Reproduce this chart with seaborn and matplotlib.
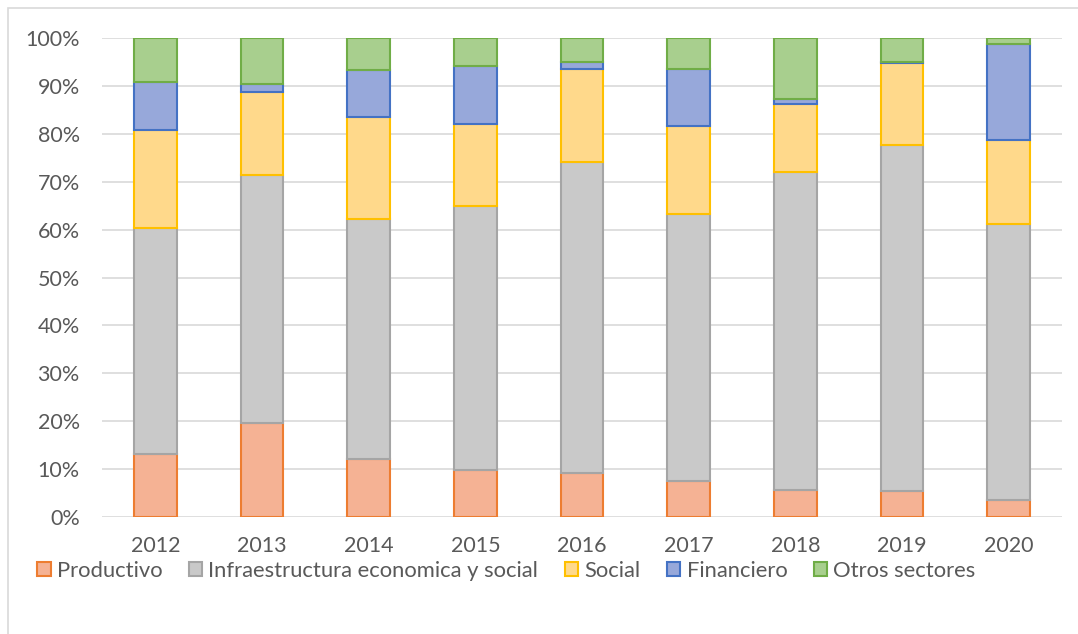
import matplotlib
matplotlib.use("Agg")
import matplotlib.pyplot as plt
from matplotlib.patches import Patch, Rectangle
from matplotlib.ticker import PercentFormatter
import numpy as np
import pandas as pd
import seaborn as sns

# Sector shares per year (percent of total)
years = ["2012", "2013", "2014", "2015", "2016", "2017", "2018", "2019", "2020"]
productivo = [13.2, 19.7, 12.1, 9.8, 9.2, 7.5, 5.6, 5.5, 3.6]
infraestructura = [47.1, 51.8, 50.1, 55.1, 65.0, 55.8, 66.4, 72.1, 57.6]
social = [20.5, 17.2, 21.3, 17.2, 19.3, 18.4, 14.2, 17.1, 17.5]
financiero = [10.1, 1.7, 9.9, 12.0, 1.4, 11.8, 1.0, 0.2, 20.0]
otros = [9.1, 9.6, 6.6, 5.9, 5.1, 6.5, 12.8, 5.1, 1.3]

series_names = ["Productivo", "Infraestructura economica y social", "Social",
                "Financiero", "Otros sectores"]
series_values = [productivo, infraestructura, social, financiero, otros]
fill_colors = ["#F5B294", "#C9C9C9", "#FFD98B", "#97A8DA", "#A8CF8E"]
edge_colors = ["#ED7D31", "#A5A5A5", "#FFC000", "#4472C4", "#70AD47"]

text_color = "#595959"

sns.set_theme(style="white")
plt.rcParams["font.family"] = ["Lato", "DejaVu Sans"]

fig = plt.figure(figsize=(10.78, 6.34), dpi=100)
ax = fig.add_axes([102 / 1078, 1 - 517 / 634, 960 / 1078, 479 / 634])

df = pd.DataFrame({"year": years})
for name, vals in zip(series_names, series_values):
    df[name] = np.array(vals) / 100.0
totals = df[series_names].sum(axis=1)
for name in series_names:
    df[name] = df[name] / totals

bottom = np.zeros(len(years))
for name, fc, ec in zip(series_names, fill_colors, edge_colors):
    sns.barplot(data=df, x="year", y=name, order=years, bottom=bottom,
                color=fc, saturation=1, width=0.4, edgecolor=ec,
                linewidth=1.5, ax=ax, zorder=3)
    bottom = bottom + df[name].to_numpy()

ax.set_xlim(-0.5, len(years) - 0.5)
ax.set_ylim(0, 1)
ax.set_yticks(np.arange(0, 1.01, 0.1))
ax.yaxis.set_major_formatter(PercentFormatter(1.0, decimals=0))
ax.grid(axis="y", color="#D9D9D9", linewidth=1.2, zorder=0)
ax.set_axisbelow(True)
for s in ax.spines.values():
    s.set_visible(False)
ax.set_xlabel("")
ax.set_ylabel("")
ax.tick_params(axis="y", length=0, pad=16, labelsize=15.5, labelcolor=text_color)
ax.tick_params(axis="x", length=0, pad=14, labelsize=15.5, labelcolor=text_color)

handles = [Patch(facecolor=fc, edgecolor=ec, linewidth=1.5)
           for fc, ec in zip(fill_colors, edge_colors)]
fig.legend(handles, series_names, loc="center left",
           bbox_to_anchor=(37 / 1078, 1 - 571 / 634), ncol=5, frameon=False,
           fontsize=15.8, labelcolor=text_color, handlelength=0.62,
           handleheight=0.62, handletextpad=0.28, columnspacing=1.2,
           borderaxespad=0, borderpad=0)

# chart frame
fig.patches.append(Rectangle((8 / 1078, -0.1), 1.2, 1 - 8 / 634 + 0.1,
                             transform=fig.transFigure, fill=False,
                             edgecolor="#D9D9D9", linewidth=1.2))

fig.savefig("out.png", dpi=100)
